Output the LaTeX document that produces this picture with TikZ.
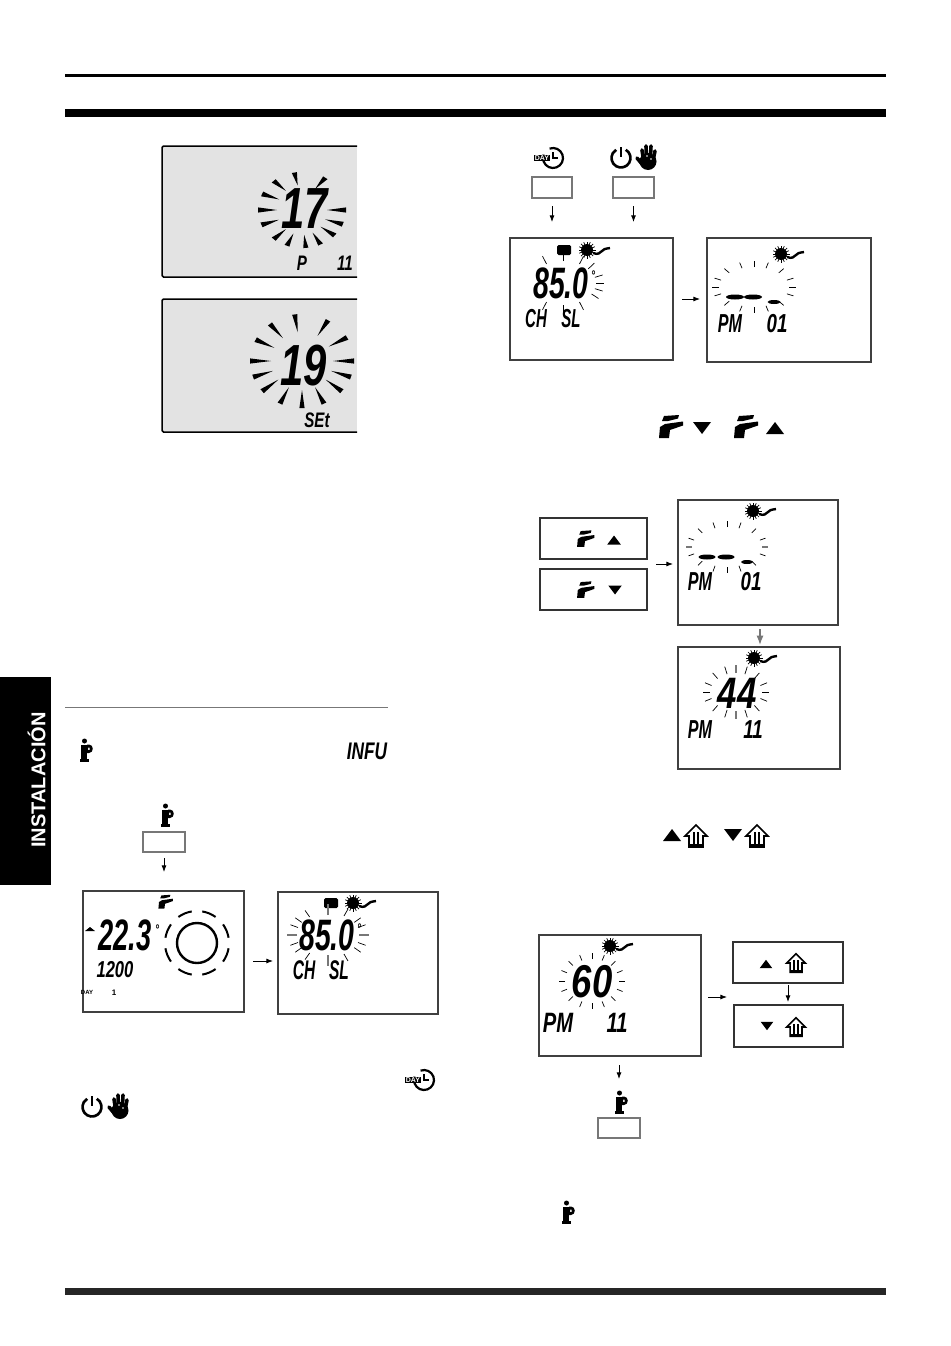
\documentclass[tikz,border=0pt]{standalone}
\usepackage{fontspec}
\setmainfont{Liberation Sans}
\usetikzlibrary{arrows.meta, positioning, calc}
\definecolor{lcdgrey}{HTML}{E3E3E3}
\definecolor{scangrey}{HTML}{777777}

% thin ticks: angles, cx, cy, rx in, ry in, rx out, ry out
\newcommand{\thinrays}[8][]{%
  \foreach \a in {#2}{\draw[line width=.7, #1] ({#3+#5*cos(\a)},{#4+#6*sin(\a)}) -- ({#3+#7*cos(\a)},{#4+#8*sin(\a)});}}
% tapered ticks, same arguments
\newcommand{\wedgerays}[7]{%
  \foreach \a in {#1}{\fill ({#2+#4*cos(\a)},{#3+#5*sin(\a)}) -- ({#2+#6*cos(\a)-2.6*sin(\a)},{#3+#7*sin(\a)+2.6*cos(\a)}) -- ({#2+#6*cos(\a)+2.6*sin(\a)},{#3+#7*sin(\a)-2.6*cos(\a)}) -- cycle;}}

\begin{document}
\begin{tikzpicture}[
        x=1pt, y=-1pt, >=Latex,
        lcdbox/.style={rectangle, draw=black!75, line width=1.1pt, inner sep=0pt, outer sep=0pt, anchor=north west},
        greybox/.style={rectangle, fill=lcdgrey, inner sep=0pt, outer sep=0pt, anchor=north west},
        keybox/.style={rectangle, draw=scangrey, line width=1.2pt, inner sep=0pt, outer sep=0pt, anchor=north west, minimum width=42pt, minimum height=20pt},
        widekey/.style={rectangle, draw=black!80, line width=1.2pt, inner sep=0pt, outer sep=0pt, anchor=north west, minimum width=107pt, minimum height=41pt},
        lcdtext/.style={font=\fontsize{#1}{#1}\selectfont\bfseries\itshape, inner sep=0pt, xscale=.72, transform shape},
        narrow/.style={xscale=.8},
        tight/.style={xscale=.9},
        semi/.style={xscale=.86},
        wider/.style={xscale=1.1},
        line/.style={draw, line width=.8pt, ->, shorten <=9pt, shorten >=4pt},
        sunicon/.pic={
            \fill (0,0) circle (6);
            \foreach \a in {0,22.5,...,337.5}{\draw[line width=.7] (\a:5) -- (\a:8.5);}
            \draw[line width=2.4] (6,3) .. controls (11,5) and (13,3) .. (15,1) .. controls (17,-1) .. (23,-2);
        },
        tapicon/.pic={
            \fill (-11,11) -- (-10,0) -- (-5,-3) -- (13,-5.5) -- (13,-1.5) -- (0,3) -- (-1,11) -- cycle;
            \fill (-8,-6) -- (-6,-11) -- (9,-12) -- (8,-8.5) -- (-2,-6) -- cycle;
        },
        houseicon/.pic={
            \draw[line width=1.6] (0,-11) -- (11,0) -- (7,0) -- (7,11) -- (-7,11) -- (-7,0) -- (-11,0) -- cycle;
            \fill (-3,-4) rectangle (-1,10);
            \fill (1,-4) rectangle (3,10);
            \fill (-6,8) rectangle (6,11);
        },
        infoicon/.pic={
            \fill (-1.5,-9) circle (2.5);
            \fill (-5,-5.5) rectangle (1,9);
            \fill (-6.5,8.5) rectangle (3,11.5);
            \fill[even odd rule] (1,-5.5) -- (3,-5.5) .. controls (8,-5.5) and (8,3) .. (3,3) -- (1,3) -- cycle (2,-2.5) rectangle (3.5,0);
        },
        dayicon/.pic={
            \draw[line width=2.2] (4,0) ++(-110:10) arc (-110:200:10);
            \draw[line width=2] (4,-6) -- (4,0) -- (9,0);
            \node[font=\fontsize{7}{7}\selectfont\bfseries, fill=black, text=white, inner sep=.7pt] (daytag) at (-7,0) {DAY};
        },
        powericon/.pic={
            \draw[line width=2.6] (0,0) ++(-60:9.5) arc (-60:240:9.5);
            \draw[line width=2.6] (0,-11) -- (0,-1);
        },
        handicon/.pic={
            \fill (0,3.5) circle (8.5);
            \foreach \p/\q in {-6/-8, -2/-12, 3/-12, 7/-7}{\draw[line width=3.6, line cap=round] (\p*.8,0) -- (\p,\q);}
            \draw[line width=3.6, line cap=round] (-6,6) -- (-11,0);
            \fill[white] (-1,-2) circle (.9) (3,1) circle (.9);
        },
        triup/.pic={\fill (-9,6) -- (9,6) -- (0,-6) -- cycle;},
        tridown/.pic={\fill (-9,-6) -- (9,-6) -- (0,6) -- cycle;},
        sqicon/.pic={\fill[rounded corners=1.5pt] (-7,-5) rectangle (7,5);},
    ]
    \useasboundingbox (0,0) rectangle (950,1346);

    % Page rules and side tab
    \draw[line width=3.5pt] (65,75.5) -- (886,75.5);
    \draw[line width=8pt] (65,113) -- (886,113);
    \draw[line width=7pt, black!85] (65,1291) -- (886,1291);
    \draw[line width=1.4pt, scangrey] (65,707.5) -- (388,707.5);
    \node[rectangle, fill=black, anchor=north west, minimum width=51pt, minimum height=208pt, inner sep=0pt] (sidetab) at (0,677) {};
    \node[rotate=90, text=white, font=\fontsize{20}{20}\selectfont\bfseries, inner sep=0pt] (sidelabel) at (36.5,780) {INSTALACIÓN};

    % Grey displays
    \node[greybox, minimum width=195pt, minimum height=131pt] (plcd) at (162,146) {};
    \draw[line width=1.5pt, rounded corners=1.5pt] (plcd.north east) -- (plcd.north west) -- (plcd.south west) -- (plcd.south east);
    \wedgerays{-58,-100,-130,-155,180,157,130,110,85,65,42,22,0}{302}{210}{25}{25}{44}{38}
    \node[lcdtext=58] (pvalue) at (305,209) {17};
    \node[lcdtext=21] (pname) at (302,263) {P};
    \node[lcdtext=21] (pnum) at (345,263) {11};

    \node[greybox, minimum width=195pt, minimum height=133pt] (setlcd) at (162,299) {};
    \draw[line width=1.5pt, rounded corners=1.5pt] (setlcd.north east) -- (setlcd.north west) -- (setlcd.south west) -- (setlcd.south east);
    \wedgerays{-60,-98,-128,-153,180,160,140,115,90,65,40,20,0,-30}{302}{361}{31}{29}{52}{47}
    \node[lcdtext=58] (setvalue) at (304,366) {19};
    \node[lcdtext=21] (setname) at (317,420.5) {SEt};

    % Info line
    \pic at (86,750) {infoicon};
    \node[lcdtext=24] (infotext) at (367,751) {INFU};

    % Left keys and displays
    \pic at (167,815) {infoicon};
    \node[keybox] (infokey) at (143,832) {};
    \node[lcdbox, minimum width=161pt, minimum height=121pt] (homelcd) at (83,891) {};
    \node[lcdbox, minimum width=160pt, minimum height=122pt] (chlcd) at (278,892) {};

    \pic[scale=.6] at (165,902) {tapicon};
    \fill (85,931) -- (95,931) -- (90,927) -- cycle;
    \node[lcdtext=44, semi] (roomtemp) at (125,935) {22.3};
    \node[lcdtext=14, anchor=west] (roomdeg) at (155,930) {°};
    \node[lcdtext=23] (clocktime) at (115,970) {1200};
    \node[font=\fontsize{6}{6}\selectfont\bfseries, inner sep=0pt] (daylabel) at (87,992) {DAY};
    \node[font=\fontsize{8}{8}\selectfont\bfseries, inner sep=0pt] (daynum) at (114,993) {1};
    \draw[line width=2.4] (197,943) circle (20);
    \foreach \a in {22.5,67.5,...,337.5}{\draw[line width=2] ($(197,943)+(\a-13:32)$) arc (\a-13:\a+13:32);}

    \pic at (331,903) {sqicon};
    \pic at (353,903) {sunicon};
    \thinrays{-35,-20,20,35,125,145,160,200,215,235,-60,60}{328}{935}{32}{22}{40}{30}
    \thinrays[line width=2, scangrey]{0,90,180,270}{328}{935}{31}{20}{41}{31}
    \node[lcdtext=44, tight] (chtemp) at (327,935) {85.0};
    \node[lcdtext=14, anchor=west] (chdeg) at (357,929) {°};
    \node[lcdtext=27, narrow] (chname) at (304,970) {CH};
    \node[lcdtext=27, narrow] (slname) at (339,970) {SL};

    % Inline icons, bottom left
    \pic at (420,1080) {dayicon};
    \pic at (92,1107) {powericon};
    \pic at (120,1107) {handicon};

    % Right top keys and displays
    \pic at (549,158) {dayicon};
    \node[keybox, minimum width=40pt, minimum height=21pt] (daykey) at (532,177) {};
    \pic at (621,158) {powericon};
    \pic at (648,158) {handicon};
    \node[keybox, minimum width=41pt, minimum height=21pt] (handkey) at (613,177) {};
    \node[lcdbox, minimum width=163pt, minimum height=122pt] (sllcd) at (510,238) {};
    \node[lcdbox, minimum width=164pt, minimum height=124pt] (pmlcd) at (707,238) {};

    \pic at (564,250) {sqicon};
    \pic at (587,250) {sunicon};
    \thinrays{-120,-60,-40,-15,0,15,30,60,90,120,-90}{563}{283}{33}{22}{41}{31}
    \node[lcdtext=44, tight] (sltemp) at (561,283) {85.0};
    \node[lcdtext=14, anchor=west] (sldeg) at (591,276) {°};
    \node[lcdtext=26, narrow] (slch) at (536,319) {CH};
    \node[lcdtext=26, narrow] (slsl) at (571,319) {SL};

    \pic at (781,254) {sunicon};
    \thinrays{-135,-110,-90,-70,-45,-20,0,20,45,70,90,110,135,160,180,200}{754}{287}{35}{20}{42}{26}
    \fill (735,297) ellipse (9 and 2.5);
    \fill (753,297) ellipse (9 and 2.5);
    \fill (774,302) ellipse (6.5 and 2);
    \node[lcdtext=26, semi] (pmname) at (730,324) {PM};
    \node[lcdtext=26] (pmnum) at (777,324) {01};

    % Tap icons and sign keys
    \pic at (670,427) {tapicon};
    \pic at (702,428) {tridown};
    \pic at (745,427) {tapicon};
    \pic at (775,428) {triup};

    \node[widekey] (tapup) at (540,518) {};
    \pic[scale=.72] at (585,539) {tapicon};
    \pic[scale=.75] at (614,540) {triup};
    \node[widekey] (tapdown) at (540,569) {};
    \pic[scale=.72] at (585,590) {tapicon};
    \pic[scale=.75] at (615,590) {tridown};
    \coordinate (tapkeys) at (648,564);

    \node[lcdbox, minimum width=160pt, minimum height=125pt] (selectlcd) at (678,500) {};
    \pic at (753,511) {sunicon};
    \thinrays{-135,-110,-90,-70,-45,-20,20,45,70,90,110,135,160,200}{727}{547}{35}{20}{41}{26}
    \thinrays[line width=1.4, scangrey]{0,180}{727}{547}{35}{20}{41}{26}
    \fill (707,557) ellipse (8.5 and 2.5);
    \fill (726,557) ellipse (8.5 and 2.5);
    \fill (747,562) ellipse (6 and 2);
    \node[lcdtext=26, semi] (selname) at (700,582) {PM};
    \node[lcdtext=26] (selnum) at (751,582) {01};

    \node[lcdbox, minimum width=162pt, minimum height=122pt] (fourlcd) at (678,647) {};
    \pic at (754,658) {sunicon};
    \thinrays{-135,-110,-70,-45,-20,0,20,45,70,110,135,160,180,200}{736}{692}{26}{19}{33}{27}
    \thinrays[line width=1.6, scangrey]{90,270}{736}{692}{26}{19}{33}{27}
    \node[lcdtext=44, wider] (fourvalue) at (737,693) {44};
    \node[lcdtext=26, semi] (fourname) at (700,730) {PM};
    \node[lcdtext=26] (fournum) at (753,730) {11};

    % House keys and last display
    \pic at (672,835) {triup};
    \pic at (696,836) {houseicon};
    \pic at (733,835) {tridown};
    \pic at (757,836) {houseicon};

    \node[lcdbox, minimum width=162pt, minimum height=121pt] (sixlcd) at (539,935) {};
    \pic at (610,946) {sunicon};
    \thinrays{-135,-112,-90,-68,-45,-22,0,22,45,68,90,112,135,158,180,202}{592}{981}{27}{22}{33}{28}
    \node[lcdtext=46, wider] (sixvalue) at (592,982) {60};
    \node[lcdtext=28] (sixname) at (558,1023) {PM};
    \node[lcdtext=28] (sixnum) at (617,1023) {11};

    \node[widekey, minimum width=110pt] (houseup) at (733,942) {};
    \pic[scale=.7] at (766,964) {triup};
    \pic[scale=.85] at (796,963) {houseicon};
    \node[widekey, minimum width=109pt, minimum height=42pt] (housedown) at (734,1005) {};
    \pic[scale=.7] at (767,1026) {tridown};
    \pic[scale=.85] at (796,1027) {houseicon};
    \coordinate (housekeys) at (731,997);

    \pic at (621,1102) {infoicon};
    \node[keybox] (exitkey) at (598,1118) {};
    \pic at (568,1212) {infoicon};

    % Arrows
    \path [line, shorten <=6pt, shorten >=19pt] (infokey.south) -- (infokey.south |- homelcd.north);
    \path [line, shorten >=5pt] (homelcd.east |- 0,961) -- (chlcd.west |- 0,961);
    \path [line, shorten <=8pt, shorten >=16pt] (daykey.south) -- (daykey.south |- sllcd.north);
    \path [line, shorten <=8pt, shorten >=16pt] (handkey.south) -- (handkey.south |- sllcd.north);
    \path [line, shorten >=7pt] (sllcd.east |- 0,299) -- (pmlcd.west |- 0,299);
    \path [line, shorten <=8pt, shorten >=5pt] (tapkeys) -- (selectlcd.west |- tapkeys);
    \path [line, line width=1.4pt, scangrey, shorten <=2pt, shorten >=2pt] (fourlcd.north -| 760,0) ++(0,-20) -- (fourlcd.north -| 760,0);
    \path [line, shorten <=7pt, shorten >=4pt] (sixlcd.east |- housekeys) -- (housekeys);
    \path [line, shorten <=2pt, shorten >=3pt] (houseup.south -| 788,0) -- (housedown.north -| 788,0);
    \path [line, shorten >=0pt] (sixlcd.south -| exitkey.north) -- ++(0,23);

\end{tikzpicture}
\end{document}
